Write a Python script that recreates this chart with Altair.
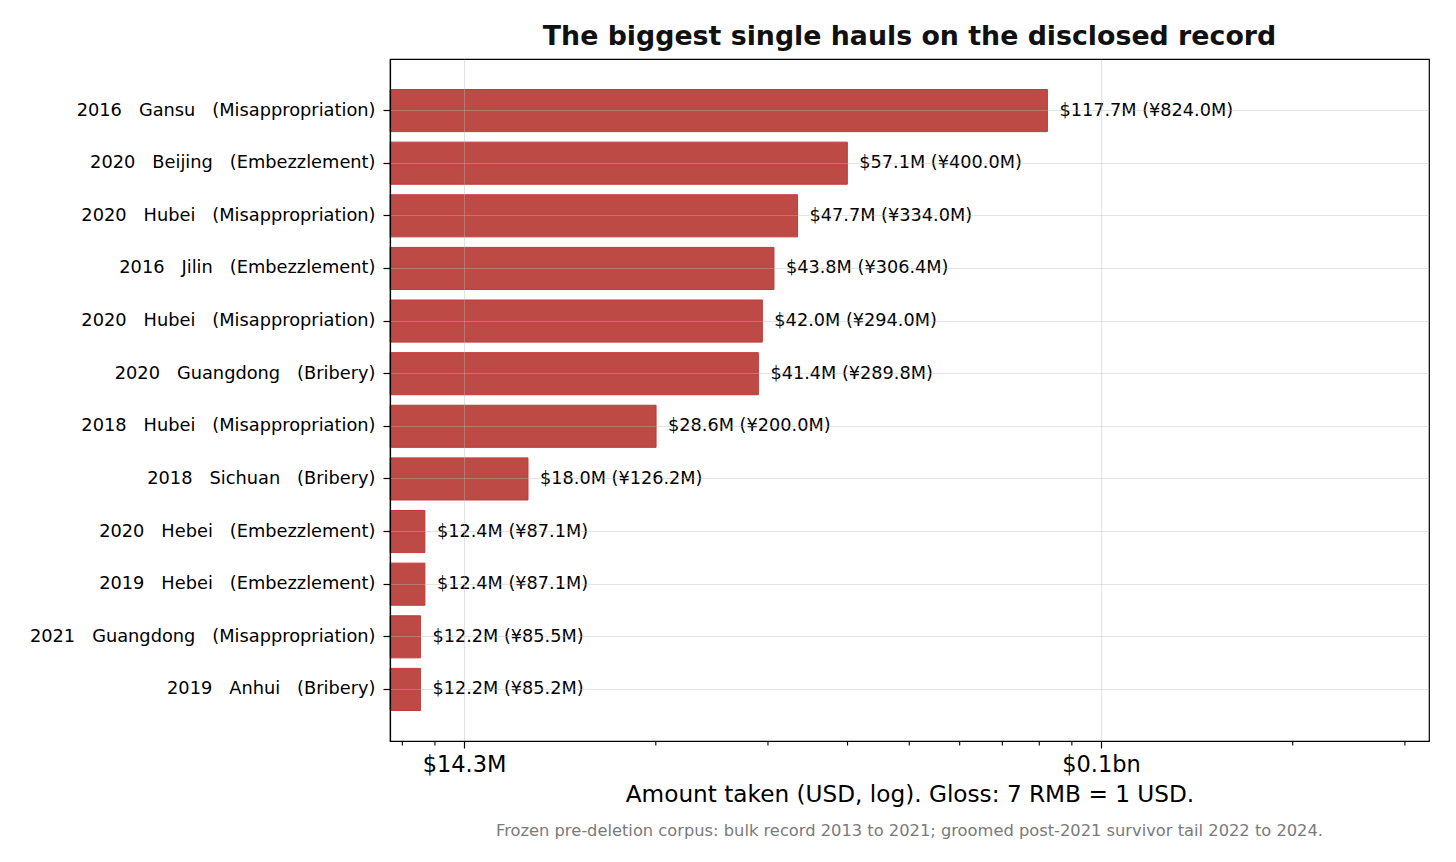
import json
import altair as alt
import pandas as pd

# ---- data ----
years = ["2016", "2020", "2020", "2016", "2020", "2020", "2018", "2018", "2020", "2019", "2021", "2019"]
provinces = ["Gansu", "Beijing", "Hubei", "Jilin", "Hubei", "Guangdong", "Hubei", "Sichuan",
             "Hebei", "Hebei", "Guangdong", "Anhui"]
offences = ["Misappropriation", "Embezzlement", "Misappropriation", "Embezzlement", "Misappropriation",
            "Bribery", "Misappropriation", "Bribery", "Embezzlement", "Embezzlement",
            "Misappropriation", "Bribery"]
usd_m = [117.7, 57.1, 47.7, 43.8, 42.0, 41.4, 28.6, 18.0, 12.4, 12.4, 12.2, 12.2]
rmb_m = [824.0, 400.0, 334.0, 306.4, 294.0, 289.8, 200.0, 126.2, 87.1, 87.1, 85.5, 85.2]

# axis ticks (USD millions; majors are RMB 100M and 1bn at 7 RMB = 1 USD)
major_ticks = [100 / 7, 1000 / 7]
major_labels = ["$14.3M", "$0.1bn"]
minor_rmb_m = [80, 90, 200, 300, 400, 500, 600, 700, 800, 900, 2000, 3000]
x_domain = [10.93, 467.6]

title_text = "The biggest single hauls on the disclosed record"
x_title = "Amount taken (USD, log). Gloss: 7 RMB = 1 USD."
footnote = ("Frozen pre-deletion corpus: bulk record 2013 to 2021; "
            "groomed post-2021 survivor tail 2022 to 2024.")

FONT = "DejaVu Sans"
W, H = 1039, 682
NB = "\u00a0\u00a0\u00a0"

cat_labels = [f"{y}{NB}{p}{NB}({o})" for y, p, o in zip(years, provinces, offences)]
keys = [f"{i:02d}" for i in range(len(years))]

df = pd.DataFrame({
    "key": keys,
    "usd": usd_m,
    "base": [x_domain[0]] * len(usd_m),
    "label": [f"${u:.1f}M (\u00a5{r:.1f}M)" for u, r in zip(usd_m, rmb_m)],
})
minor_df = pd.DataFrame({"usd": [v / 7 for v in minor_rmb_m]})
foot_df = pd.DataFrame({"t": [footnote]})

xscale = alt.Scale(type="log", domain=x_domain, nice=False, zero=False)
yscale = alt.Scale(paddingInner=0.2, paddingOuter=0.58)

label_arr = json.dumps(cat_labels, ensure_ascii=False)
y_label_expr = f"{label_arr}[toNumber(datum.value)]"
x_label_expr = f"datum.value < 50 ? '{major_labels[0]}' : '{major_labels[1]}'"

GRID = "#b8b8b8"
xaxis = alt.Axis(
    values=major_ticks, labelExpr=x_label_expr, title=x_title,
    grid=True, gridColor=GRID, gridOpacity=0.4, gridWidth=1.1,
    tickSize=7, tickWidth=1.2, tickColor="black",
    domain=True, domainColor="black", domainWidth=1.2,
    labelFontSize=22.5, labelFont=FONT, labelColor="black", labelPadding=5,
    titleFontSize=23.2, titleFont=FONT, titleFontWeight="normal", titleColor="black",
    titlePadding=8, zindex=1,
)
yaxis = alt.Axis(
    labelExpr=y_label_expr, title=None, bandPosition=0.5,
    grid=True, gridColor=GRID, gridOpacity=0.4, gridWidth=1.1,
    tickSize=7, tickWidth=1.2, tickColor="black", tickBand="center",
    domain=True, domainColor="black", domainWidth=1.2,
    labelFontSize=17.8, labelFont=FONT, labelColor="black", labelPadding=8,
    labelLimit=600, zindex=1,
)

base = alt.Chart(df)
bars = base.mark_bar(color="#bd4a45", stroke="#c43a38", strokeWidth=1, opacity=1).encode(
    x=alt.X("usd:Q", scale=xscale, axis=xaxis),
    x2="base:Q",
    y=alt.Y("key:N", scale=yscale, axis=yaxis, sort=keys),
)
texts = base.mark_text(align="left", baseline="middle", dx=12, fontSize=17.7,
                       font=FONT, color="black").encode(
    x=alt.X("usd:Q", scale=xscale),
    y=alt.Y("key:N", scale=yscale, sort=keys),
    text="label:N",
)
minor = alt.Chart(minor_df).mark_rule(color="black", strokeWidth=1.1, clip=False).encode(
    x=alt.X("usd:Q", scale=xscale),
    y=alt.value(H),
    y2=alt.value(H + 4.5),
)
foot = alt.Chart(foot_df).mark_text(align="center", baseline="middle", fontSize=16.3,
                                    font=FONT, color="#7a7a7a").encode(
    x=alt.value(W / 2),
    y=alt.value(H + 90),
    text="t:N",
)

chart = alt.layer(bars, texts, minor, foot).properties(
    width=W, height=H,
    title=alt.TitleParams(title_text, fontSize=26.8, fontWeight="bold", font=FONT,
                          color="#111111", anchor="middle", frame="group", offset=8),
    padding={"left": 21, "top": 16, "right": 10, "bottom": 5},
).configure(background="white").configure_view(stroke="black", strokeWidth=1.2)

chart.save("out.html", embed_options={"renderer": "svg", "actions": False})
